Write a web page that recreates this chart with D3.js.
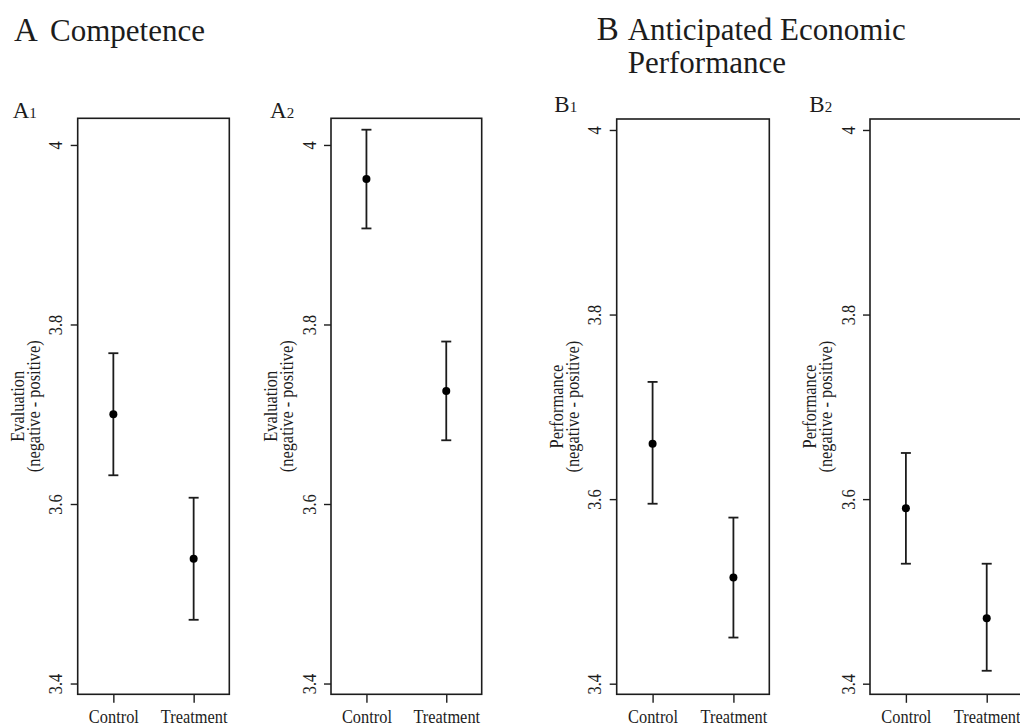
<!DOCTYPE html>
<html>
<head>
<meta charset="utf-8">
<script src="https://cdn.jsdelivr.net/npm/d3@7"></script>
<style>
  body { margin: 0; background: #fff; }
  svg { display: block; }
  text { font-family: "Liberation Serif", "Times New Roman", serif; fill: #1c1c1c; }
</style>
</head>
<body>
<svg id="chart" width="1020" height="726"></svg>
<script>
// ---- data ----
const conditions = ["Control", "Treatment"];
const panelNames = ["A1", "A2", "B1", "B2"];
const controlMean = [3.700, 3.962, 3.660, 3.590];
const controlLow = [3.632, 3.907, 3.595, 3.530];
const controlHigh = [3.768, 4.017, 3.727, 3.650];
const treatmentMean = [3.539, 3.726, 3.515, 3.471];
const treatmentLow = [3.471, 3.671, 3.450, 3.414];
const treatmentHigh = [3.607, 3.781, 3.580, 3.530];
const yTicks = [3.4, 3.6, 3.8, 4.0];
const yTitleTop = ["Evaluation", "Evaluation", "Performance", "Performance"];
const yTitleBottom = "(negative - positive)";

// ---- layout ----
const boxBottom = 694.3;
const axisFont = 19.5;     // axis text size
const axisSquash = 0.84;   // narrow letterforms along the reading direction
const panelLayout = [
  { left: 77.7, top: 118.3, width: 151.6, yDomain: [3.388, 4.0297], tag: "A", sub: "1", tagX: 12.7, tagY: 118 },
  { left: 331.0, top: 118.3, width: 150.7, yDomain: [3.388, 4.0297], tag: "A", sub: "2", tagX: 270, tagY: 118 },
  { left: 616.7, top: 119.0, width: 152.6, yDomain: [3.3885, 4.0119], tag: "B", sub: "1", tagX: 554.3, tagY: 112 },
  { left: 870.0, top: 119.0, width: 152.6, yDomain: [3.3885, 4.0119], tag: "B", sub: "2", tagX: 809.3, tagY: 112 }
];

const ink = "#1c1c1c";
const svg = d3.select("#chart");

// ---- section headings ----
const headA = svg.append("text").attr("x", 14).attr("y", 41);
headA.append("tspan").attr("font-size", 33).text("A");
headA.append("tspan").attr("x", 50).attr("font-size", 31).text("Competence");

const headB = svg.append("text").attr("x", 596.7).attr("y", 40);
headB.append("tspan").attr("font-size", 33).text("B");
headB.append("tspan").attr("x", 627.7).attr("font-size", 31).text("Anticipated Economic");
svg.append("text").attr("x", 627.7).attr("y", 73.3).attr("font-size", 31).text("Performance");

// ---- panels ----
panelNames.forEach((name, i) => {
  const L = panelLayout[i];
  const g = svg.append("g").attr("class", "panel-" + name);

  const x = d3.scalePoint()
    .domain(conditions)
    .range([L.left, L.left + L.width])
    .padding(0.444);
  const y = d3.scaleLinear().domain(L.yDomain).range([boxBottom, L.top]);

  const rows = [
    { cond: conditions[0], mean: controlMean[i], lo: controlLow[i], hi: controlHigh[i] },
    { cond: conditions[1], mean: treatmentMean[i], lo: treatmentLow[i], hi: treatmentHigh[i] }
  ];

  // y axis
  const yAxis = g.append("g")
    .attr("transform", `translate(${L.left},0)`)
    .call(d3.axisLeft(y).tickValues(yTicks).tickSize(7).tickFormat(d3.format("~g")));
  yAxis.select(".domain").remove();
  yAxis.selectAll(".tick line").attr("stroke", ink).attr("stroke-width", 1.4);
  yAxis.selectAll(".tick text")
    .attr("x", null).attr("dy", null)
    .attr("text-anchor", "middle")
    .attr("font-size", axisFont)
    .attr("fill", ink)
    .attr("transform", `translate(-15.5,0) rotate(-90) scale(${axisSquash},1)`);
  yAxis.attr("font-family", null);

  // x axis
  const xAxis = g.append("g")
    .attr("transform", `translate(0,${boxBottom})`)
    .call(d3.axisBottom(x).tickSize(8.5));
  xAxis.select(".domain").remove();
  xAxis.selectAll(".tick line").attr("stroke", ink).attr("stroke-width", 1.4);
  xAxis.selectAll(".tick text")
    .attr("dy", null).attr("y", 28.7)
    .attr("font-size", axisFont)
    .attr("fill", ink)
    .attr("transform", `scale(${axisSquash},1)`);
  xAxis.attr("font-family", null);

  // plot frame
  g.append("rect")
    .attr("x", L.left).attr("y", L.top)
    .attr("width", L.width).attr("height", boxBottom - L.top)
    .attr("fill", "none").attr("stroke", ink).attr("stroke-width", 1.6);

  // y axis title (two lines)
  const midY = (L.top + boxBottom) / 2;
  g.append("text")
    .attr("transform", `translate(${L.left - 53.7},${midY}) rotate(-90) scale(${axisSquash},1)`)
    .attr("text-anchor", "middle").attr("font-size", axisFont)
    .text(yTitleTop[i]);
  g.append("text")
    .attr("transform", `translate(${L.left - 38.2},${midY}) rotate(-90) scale(${axisSquash},1)`)
    .attr("text-anchor", "middle").attr("font-size", axisFont)
    .text(yTitleBottom);

  // panel tag with subscript
  const tag = g.append("text").attr("x", L.tagX).attr("y", L.tagY);
  tag.append("tspan").attr("font-size", 23).text(L.tag);
  tag.append("tspan").attr("font-size", 15).text(L.sub);

  // error bars
  const bars = g.selectAll(".ci").data(rows).join("g").attr("class", "ci");
  bars.append("line")
    .attr("x1", d => x(d.cond)).attr("x2", d => x(d.cond))
    .attr("y1", d => y(d.lo)).attr("y2", d => y(d.hi))
    .attr("stroke", ink).attr("stroke-width", 1.8);
  bars.append("line")
    .attr("x1", d => x(d.cond) - 5).attr("x2", d => x(d.cond) + 5)
    .attr("y1", d => y(d.hi)).attr("y2", d => y(d.hi))
    .attr("stroke", ink).attr("stroke-width", 1.8);
  bars.append("line")
    .attr("x1", d => x(d.cond) - 5).attr("x2", d => x(d.cond) + 5)
    .attr("y1", d => y(d.lo)).attr("y2", d => y(d.lo))
    .attr("stroke", ink).attr("stroke-width", 1.8);

  // means
  g.selectAll(".mean").data(rows).join("circle")
    .attr("class", "mean")
    .attr("cx", d => x(d.cond)).attr("cy", d => y(d.mean))
    .attr("r", 4).attr("fill", "#000");
});
</script>
</body>
</html>
